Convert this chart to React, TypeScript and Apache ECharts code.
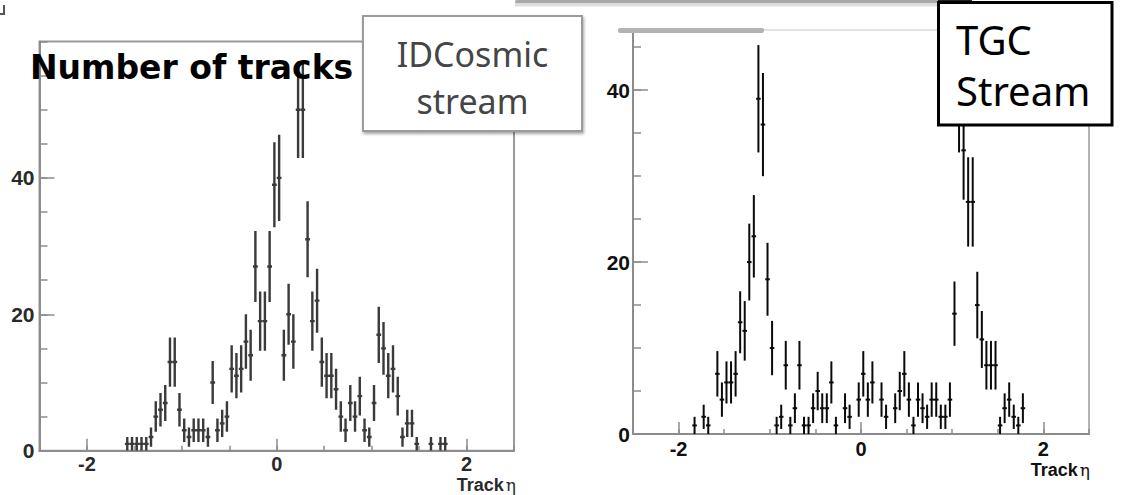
import React, { useEffect, useRef } from "react";
import * as echarts from "echarts";

// Histogram bin width in eta
const BIN_WIDTH = 0.05;

// IDCosmic stream: bin centres and entries
const idcEta = [
  -1.575, -1.525, -1.475, -1.425, -1.375, -1.325, -1.275, -1.225, -1.175, -1.125,
  -1.075, -1.025, -0.975, -0.925, -0.875, -0.825, -0.775, -0.725, -0.675, -0.625,
  -0.575, -0.525, -0.475, -0.425, -0.375, -0.325, -0.275, -0.225, -0.175, -0.125,
  -0.075, -0.025, 0.025, 0.075, 0.125, 0.175, 0.225, 0.275, 0.325, 0.375,
  0.425, 0.475, 0.525, 0.575, 0.625, 0.675, 0.725, 0.775, 0.825, 0.875,
  0.925, 0.975, 1.025, 1.075, 1.125, 1.175, 1.225, 1.275, 1.325, 1.375,
  1.425, 1.475, 1.625, 1.725, 1.775,
];
const idcCounts = [
  1, 1, 1, 1, 1, 2, 5, 6, 7, 13,
  13, 6, 3, 2, 3, 3, 3, 2, 10, 3,
  4, 5, 12, 11, 12, 16, 14, 27, 19, 19,
  27, 39, 40, 14, 20, 16, 50, 50, 31, 19,
  22, 13, 11, 11, 9, 5, 3, 7, 5, 8,
  3, 2, 7, 17, 15, 11, 12, 8, 2, 4,
  4, 1, 1, 1, 1,
];

// TGC stream: bin centres and entries
const tgcEta = [
  -1.825, -1.725, -1.675, -1.575, -1.525, -1.475, -1.425, -1.375, -1.325, -1.275,
  -1.225, -1.175, -1.125, -1.075, -1.025, -0.975, -0.925, -0.875, -0.825, -0.775,
  -0.725, -0.675, -0.625, -0.575, -0.525, -0.475, -0.425, -0.375, -0.325, -0.275,
  -0.175, -0.125, -0.025, 0.025, 0.075, 0.125, 0.225, 0.275, 0.375, 0.425,
  0.475, 0.525, 0.575, 0.625, 0.675, 0.725, 0.775, 0.825, 0.875, 0.925,
  0.975, 1.025, 1.075, 1.125, 1.175, 1.225, 1.275, 1.325, 1.375, 1.425,
  1.475, 1.525, 1.575, 1.625, 1.675, 1.725, 1.775,
];
const tgcCounts = [
  1, 2, 1, 7, 4, 6, 6, 7, 13, 12,
  20, 23, 39, 36, 18, 10, 1, 2, 8, 1,
  3, 8, 1, 1, 3, 5, 3, 3, 6, 1,
  3, 2, 4, 7, 4, 6, 4, 2, 3, 5,
  7, 4, 1, 4, 3, 2, 4, 4, 2, 2,
  4, 14, 39, 33, 27, 27, 15, 11, 8, 8,
  8, 1, 3, 4, 2, 1, 3,
];

const etaRange = [-2.5, 2.5];
const xLabelTicks = [-2, 0, 2];
const yLabelTicks = [0, 20, 40];
const idcYMax = 60;
const tgcYMax = 47;

const LABEL_FONT = '"Liberation Sans", Arial, sans-serif';

// Poisson error bars with a horizontal bar spanning the bin
function errorBars(axisIndex: number, eta: number[], counts: number[], color: string, width: number) {
  return {
    type: "custom",
    xAxisIndex: axisIndex,
    yAxisIndex: axisIndex,
    clip: true,
    silent: true,
    data: eta.map((e, i) => [e, counts[i]]),
    renderItem: (_params: any, api: any) => {
      const x = api.value(0);
      const n = api.value(1);
      const err = Math.sqrt(n);
      const hi = api.coord([x, n + err]);
      const lo = api.coord([x, Math.max(n - err, 0)]);
      const l = api.coord([x - BIN_WIDTH / 2, n]);
      const r = api.coord([x + BIN_WIDTH / 2, n]);
      const style = { stroke: color, lineWidth: width, fill: null };
      return {
        type: "group",
        children: [
          { type: "line", shape: { x1: hi[0], y1: hi[1], x2: lo[0], y2: lo[1] }, style },
          { type: "line", shape: { x1: l[0], y1: l[1], x2: r[0], y2: r[1] }, style },
        ],
      };
    },
  };
}

function xAxesFor(gridIndex: number, color: string, labelColor: string, margin: number) {
  return [
    {
      type: "value",
      gridIndex,
      position: "bottom",
      min: etaRange[0],
      max: etaRange[1],
      axisLine: { show: true, onZero: false, lineStyle: { color, width: 2 } },
      axisTick: { show: true, inside: true, length: 12, customValues: xLabelTicks, lineStyle: { color, width: 1.5 } },
      axisLabel: {
        show: true,
        customValues: xLabelTicks,
        margin,
        color: labelColor,
        fontFamily: LABEL_FONT,
        fontWeight: "bold",
        fontSize: 20,
        lineHeight: 20,
        formatter: (v: number) => String(v),
      },
      splitLine: { show: false },
    },
    {
      type: "value",
      gridIndex,
      position: "bottom",
      min: etaRange[0],
      max: etaRange[1],
      interval: 0.5,
      axisLine: { show: false, onZero: false },
      axisTick: { show: true, inside: true, length: 5, lineStyle: { color, width: 1.5 } },
      axisLabel: { show: false },
      splitLine: { show: false },
    },
  ];
}

function yAxesFor(gridIndex: number, yMax: number, color: string, labelColor: string, margin: number) {
  return [
    {
      type: "value",
      gridIndex,
      position: "left",
      min: 0,
      max: yMax,
      axisLine: { show: true, onZero: false, lineStyle: { color, width: 2 } },
      axisTick: { show: true, inside: true, length: 15, customValues: yLabelTicks, lineStyle: { color, width: 1.5 } },
      axisLabel: {
        show: true,
        customValues: yLabelTicks,
        margin,
        color: labelColor,
        fontFamily: LABEL_FONT,
        fontWeight: "bold",
        fontSize: 21,
      },
      splitLine: { show: false },
    },
    {
      type: "value",
      gridIndex,
      position: "left",
      min: 0,
      max: yMax,
      interval: 5,
      axisLine: { show: false, onZero: false },
      axisTick: { show: true, inside: true, length: 8, lineStyle: { color, width: 1.5 } },
      axisLabel: { show: false },
      splitLine: { show: false },
    },
  ];
}

function text(x: number, y: number, content: string, font: string, fill: string, align = "left") {
  return {
    type: "text",
    z: 100,
    silent: true,
    style: {
      x,
      y,
      text: content,
      font,
      fill,
      align,
      textAlign: align,
      verticalAlign: "middle",
      textVerticalAlign: "middle",
    },
  };
}

function trackEtaLabel(x: number, y: number, color: string) {
  return {
    type: "text",
    z: 100,
    silent: true,
    style: {
      x,
      y,
      text: "{b|Track}{g|η}",
      align: "right",
      textAlign: "right",
      verticalAlign: "middle",
      textVerticalAlign: "middle",
      rich: {
        b: { fontFamily: LABEL_FONT, fontWeight: "bold", fontSize: 18, lineHeight: 18, fill: color, color },
        g: { fontFamily: '"DejaVu Serif", serif', fontSize: 17, lineHeight: 18, fill: color, color, padding: [0, 0, 0, 2] },
      },
    },
  };
}

const option: any = {
  animation: false,
  backgroundColor: "#ffffff",
  grid: [
    {
      left: 39.5,
      top: 41.5,
      width: 474.5,
      height: 409.2,
      show: true,
      borderColor: "#9a9a9a",
      borderWidth: 2,
      containLabel: false,
    },
    {
      left: 633,
      top: 30,
      width: 456,
      height: 404,
      show: true,
      borderColor: "#9c9c9c",
      borderWidth: 1.5,
      containLabel: false,
    },
  ],
  xAxis: [...xAxesFor(0, "#8c8c8c", "#2a2a2a", 3), ...xAxesFor(1, "#8c8c8c", "#111111", 5)],
  yAxis: [...yAxesFor(0, idcYMax, "#8c8c8c", "#2a2a2a", 5), ...yAxesFor(1, tgcYMax, "#8c8c8c", "#111111", 3)],
  series: [
    errorBars(0, idcEta, idcCounts, "#3a3a3a", 2.4),
    errorBars(2, tgcEta, tgcCounts, "#0a0a0a", 2),
  ],
  graphic: [
    // slide decorations along the top edge
    { type: "rect", z: 90, silent: true, shape: { x: 515, y: 0, width: 457, height: 3.5, r: 1.5 }, style: { fill: "#a9a9a9" } },
    { type: "rect", z: 90, silent: true, shape: { x: 515, y: 3.5, width: 457, height: 3 }, style: { fill: "#dedede" } },
    { type: "rect", z: 91, silent: true, shape: { x: 938, y: 0, width: 34, height: 4 }, style: { fill: "#222222" } },
    { type: "polyline", z: 90, silent: true, shape: { points: [[4, 5], [4, 14], [0, 14]] }, style: { stroke: "#555555", lineWidth: 2, fill: null } },

    // highlight on the top edge of the TGC frame
    { type: "line", z: 90, silent: true, shape: { x1: 764, y1: 30, x2: 1089, y2: 30 }, style: { stroke: "#e2e2e2", lineWidth: 2 } },
    { type: "rect", z: 91, silent: true, shape: { x: 618, y: 28, width: 146, height: 5, r: 2 }, style: { fill: "#b3b3b3" } },

    // title of the left histogram
    text(30, 67.5, "Number of tracks", 'bold 33px "DejaVu Sans", sans-serif', "#000000"),

    // IDCosmic stream box
    {
      type: "rect",
      z: 95,
      silent: true,
      shape: { x: 363, y: 16, width: 219, height: 115 },
      style: { fill: "#ffffff", stroke: "#9b9b9b", lineWidth: 2, shadowColor: "rgba(0,0,0,0.35)", shadowBlur: 3, shadowOffsetX: 1, shadowOffsetY: 2 },
    },
    text(472.5, 54, "IDCosmic", '34px "Noto Sans", "Open Sans", sans-serif', "#454545", "center"),
    text(472.5, 101, "stream", '34px "Noto Sans", "Open Sans", sans-serif', "#454545", "center"),

    // TGC stream box
    {
      type: "rect",
      z: 95,
      silent: true,
      shape: { x: 938.5, y: 2.5, width: 173.5, height: 122.5 },
      style: { fill: "#ffffff", stroke: "#000000", lineWidth: 3 },
    },
    text(956, 39, "TGC", '40px "Noto Sans", sans-serif', "#000000"),
    text(956, 90, "Stream", '40px "Noto Sans", sans-serif', "#000000"),

    // axis titles
    trackEtaLabel(516, 484.5, "#2a2a2a"),
    trackEtaLabel(1090, 470, "#111111"),
  ],
};

export default function App() {
  const ref = useRef<HTMLDivElement>(null);

  useEffect(() => {
    if (!ref.current) return;
    const chart = echarts.init(ref.current, null, { renderer: "svg" });
    chart.setOption(option);
    return () => {
      chart.dispose();
    };
  }, []);

  return (
    <div
      ref={ref}
      style={{ position: "absolute", left: 0, top: 0, width: 1122, height: 495, background: "#ffffff" }}
    />
  );
}
